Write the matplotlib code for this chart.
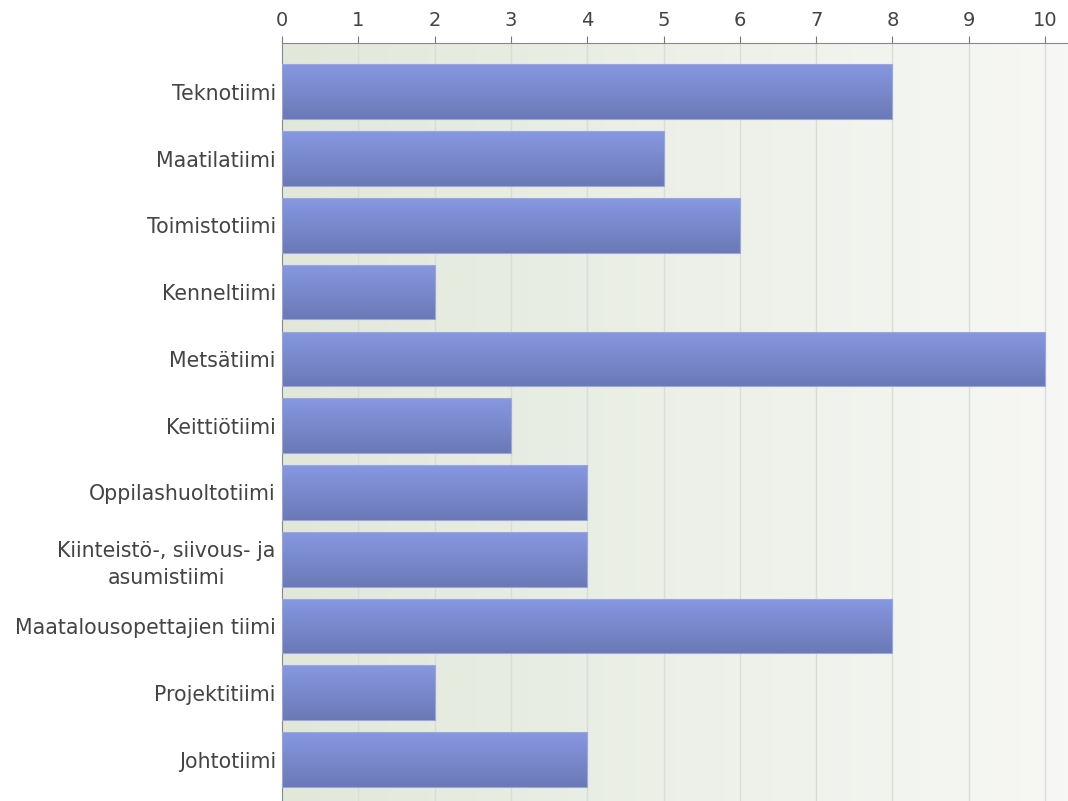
import matplotlib
matplotlib.use("Agg")
import matplotlib.pyplot as plt
import numpy as np
from matplotlib.colors import LinearSegmentedColormap

categories = ["Teknotiimi", "Maatilatiimi", "Toimistotiimi", "Kenneltiimi", "Metsätiimi",
              "Keittiötiimi", "Oppilashuoltotiimi", "Kiinteistö-, siivous- ja\nasumistiimi",
              "Maatalousopettajien tiimi", "Projektitiimi", "Johtotiimi"]
values = [8, 5, 6, 2, 10, 3, 4, 4, 8, 2, 4]
xticks = list(range(0, 11))

plt.rcParams['font.family'] = ['DejaVu Sans']

fig = plt.figure(figsize=(10.68, 8.01), dpi=100)
ax = fig.add_axes([282/1068, 0, 1 - 282/1068, 1 - 43/801])

y = np.arange(len(categories))
bar_h = 0.82
xmax = 10.3

# background gradient
bg = LinearSegmentedColormap.from_list("bg", ["#e1e8da", "#f7f8f5"])
grad = np.linspace(0, 1, 256).reshape(1, -1)
ax.imshow(grad, cmap=bg, aspect='auto', extent=(0, xmax, 10.62, -0.73), zorder=0)

for xt in xticks[1:]:
    ax.axvline(xt, color="#d9ddd6", lw=1, zorder=1)

bars = ax.barh(y, values, height=bar_h, color="none", edgecolor="#9aa6dc", lw=0.8, zorder=3)
barcmap = LinearSegmentedColormap.from_list("bar", ["#8798e2", "#6a79b6"])
vgrad = np.linspace(0, 1, 256).reshape(-1, 1)
for yi, v, b in zip(y, values, bars):
    im = ax.imshow(vgrad, cmap=barcmap, aspect='auto',
                   extent=(0, v, yi + bar_h / 2, yi - bar_h / 2), zorder=2)
    im.set_clip_path(b)

ax.set_xlim(0, xmax)
ax.set_ylim(10.62, -0.73)
ax.set_yticks(y)
ax.set_yticklabels(categories, fontsize=14.8, color="#444444")
for lbl in ax.get_yticklabels():
    lbl.set_multialignment('center')
    lbl.set_linespacing(1.4)
ax.tick_params(axis='y', length=0, pad=4.5)

ax.xaxis.tick_top()
ax.set_xticks(xticks)
ax.set_xticklabels([str(t) for t in xticks], fontsize=14, color="#444444")
ax.tick_params(axis='x', direction='out', length=5, color="#777777", pad=4)

for s in ["right", "bottom"]:
    ax.spines[s].set_visible(False)
ax.spines["top"].set_color("#888888")
ax.spines["left"].set_color("#888888")

fig.savefig("out.png", dpi=100)
